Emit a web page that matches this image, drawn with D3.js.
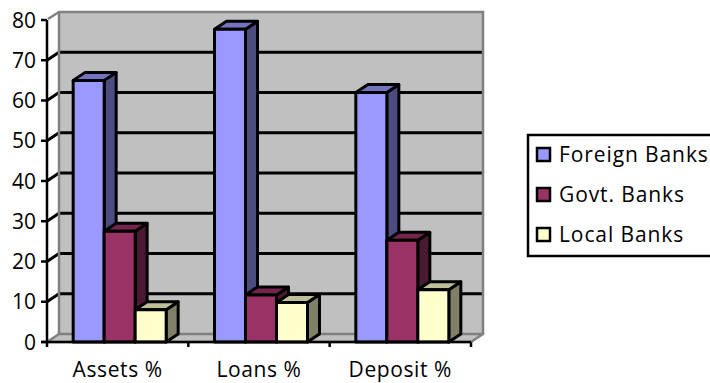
<!DOCTYPE html>
<html>
<head>
<meta charset="utf-8">
<script src="https://cdn.jsdelivr.net/npm/d3@7"></script>
<style>
    body { margin: 0; background: #fff; }
    svg { display: block; }
    text { font-family: "Open Sans", sans-serif; fill: #000; }
</style>
</head>
<body>
<div id="chart"></div>
<script>
const categories = ["Assets %", "Loans %", "Deposit %"];
const seriesNames = ["Foreign Banks", "Govt. Banks", "Local Banks"];
const foreignBanks = [65, 77.7, 62];
const govtBanks = [27.5, 11.7, 25.3];
const localBanks = [8, 9.8, 13];
const yTicks = [0, 10, 20, 30, 40, 50, 60, 70, 80];

const seriesValues = [foreignBanks, govtBanks, localBanks];
const colors = [
    {front: "#9999ff", side: "#4c4c80", top: "#7373bf"},
    {front: "#993366", side: "#4c1933", top: "#73264d"},
    {front: "#ffffcc", side: "#808066", top: "#bfbf99"}
];

const width = 710, height = 383;
const dx = 12, dy = -8;   // 3d depth offset

const svg = d3.select("#chart").append("svg")
    .attr("width", width)
    .attr("height", height);

const x = d3.scaleBand().domain(categories).range([47, 471]).padding(0);
const xs = d3.scaleBand().domain(seriesNames).range([2, x.bandwidth() + 2]).paddingInner(0).paddingOuter(0.78);
const y = d3.scaleLinear().domain([0, 80]).range([342, 20]);

const x0 = x.range()[0], x1 = x.range()[1];
const y0 = y(0), yTop = y(80);

// back wall
svg.append("rect")
    .attr("x", x0 + dx)
    .attr("y", yTop + dy)
    .attr("width", x1 - x0)
    .attr("height", y0 - yTop)
    .attr("fill", "#c0c0c0");

// floor
svg.append("path")
    .attr("d", `M${x0},${y0}L${x1},${y0}L${x1 + dx},${y0 + dy}L${x0 + dx},${y0 + dy}Z`)
    .attr("fill", "#c0c0c0")
    .attr("stroke", "#808080")
    .attr("stroke-width", 2.5)
    .attr("stroke-linejoin", "round");

// gridlines (with the short diagonal on the side wall)
svg.append("g").selectAll("path")
    .data(yTicks.filter(t => t > 0 && t < 80))
    .join("path")
    .attr("d", t => `M${x0},${y(t)}L${x0 + dx},${y(t) + dy}L${x1 + dx},${y(t) + dy}`)
    .attr("fill", "none")
    .attr("stroke", "#000")
    .attr("stroke-width", 3);

// wall border
svg.append("path")
    .attr("d", `M${x0 + 1},${yTop - 1}L${x0 + dx},${yTop + dy}L${x1 + dx},${yTop + dy}L${x1 + dx},${y0 + dy}`)
    .attr("fill", "none")
    .attr("stroke", "#808080")
    .attr("stroke-width", 2.5);
svg.append("line")
    .attr("x1", x0 + dx).attr("y1", yTop + dy)
    .attr("x2", x0 + dx).attr("y2", y0 + dy)
    .attr("stroke", "#808080")
    .attr("stroke-width", 2.5);

// bars
const bars = [];
categories.forEach((c, ci) => {
    seriesNames.forEach((s, si) => {
        bars.push({cat: c, series: s, si, value: seriesValues[si][ci]});
    });
});

const barG = svg.append("g").selectAll("g")
    .data(bars)
    .join("g")
    .attr("stroke", "#000")
    .attr("stroke-width", 3)
    .attr("stroke-linejoin", "round");

barG.each(function (d) {
    const g = d3.select(this);
    const bx = x(d.cat) + xs(d.series);
    const bw = xs.bandwidth();
    const by = y(d.value);
    g.append("path")
        .attr("d", `M${bx + bw},${y0}L${bx + bw + dx},${y0 + dy}L${bx + bw + dx},${by + dy}L${bx + bw},${by}Z`)
        .attr("fill", colors[d.si].side);
    g.append("path")
        .attr("d", `M${bx},${by}L${bx + dx},${by + dy}L${bx + bw + dx},${by + dy}L${bx + bw},${by}Z`)
        .attr("fill", colors[d.si].top);
    g.append("rect")
        .attr("x", bx).attr("y", by)
        .attr("width", bw).attr("height", y0 - by)
        .attr("fill", colors[d.si].front);
});

// y axis
const yAxis = svg.append("g");
yAxis.append("line")
    .attr("x1", x0).attr("y1", yTop)
    .attr("x2", x0).attr("y2", y0)
    .attr("stroke", "#000").attr("stroke-width", 2.5);
yAxis.selectAll("line.tick")
    .data(yTicks)
    .join("line")
    .attr("class", "tick")
    .attr("x1", x0 - 6).attr("x2", x0)
    .attr("y1", t => y(t)).attr("y2", t => y(t))
    .attr("stroke", "#000").attr("stroke-width", 2.5);
yAxis.selectAll("text")
    .data(yTicks)
    .join("text")
    .attr("x", x0 - 11)
    .attr("y", t => y(t))
    .attr("dy", "0.36em")
    .attr("text-anchor", "end")
    .style("font-size", "21px")
    .text(t => t);

// x axis
const xAxis = svg.append("g");
xAxis.append("line")
    .attr("x1", x0 - 6).attr("y1", y0)
    .attr("x2", x1).attr("y2", y0)
    .attr("stroke", "#000").attr("stroke-width", 2.5);
xAxis.selectAll("line.tick")
    .data([x0, ...categories.map(c => x(c) + x.bandwidth())])
    .join("line")
    .attr("class", "tick")
    .attr("x1", d => d).attr("x2", d => d)
    .attr("y1", y0).attr("y2", y0 + 5)
    .attr("stroke", "#000").attr("stroke-width", 2.5);
xAxis.selectAll("text")
    .data(categories)
    .join("text")
    .attr("x", c => x(c) + x.bandwidth() / 2)
    .attr("y", 377)
    .attr("text-anchor", "middle")
    .style("font-size", "21px")
    .style("letter-spacing", "0.6px")
    .text(c => c);

// legend
const legend = svg.append("g").attr("transform", "translate(528,135)");
legend.append("rect")
    .attr("width", 200)
    .attr("height", 121)
    .attr("fill", "#fff")
    .attr("stroke", "#000")
    .attr("stroke-width", 2.5);
const item = legend.selectAll("g.item")
    .data(seriesNames)
    .join("g")
    .attr("class", "item")
    .attr("transform", (d, i) => `translate(0,${27 + i * 40})`);
item.append("rect")
    .attr("x", 9).attr("y", -14)
    .attr("width", 13).attr("height", 13)
    .attr("fill", (d, i) => colors[i].front)
    .attr("stroke", "#000")
    .attr("stroke-width", 2.5);
item.append("text")
    .attr("x", 31)
    .attr("y", 0)
    .style("font-size", "21px")
    .style("letter-spacing", "0.9px")
    .text(d => d);
</script>
</body>
</html>
